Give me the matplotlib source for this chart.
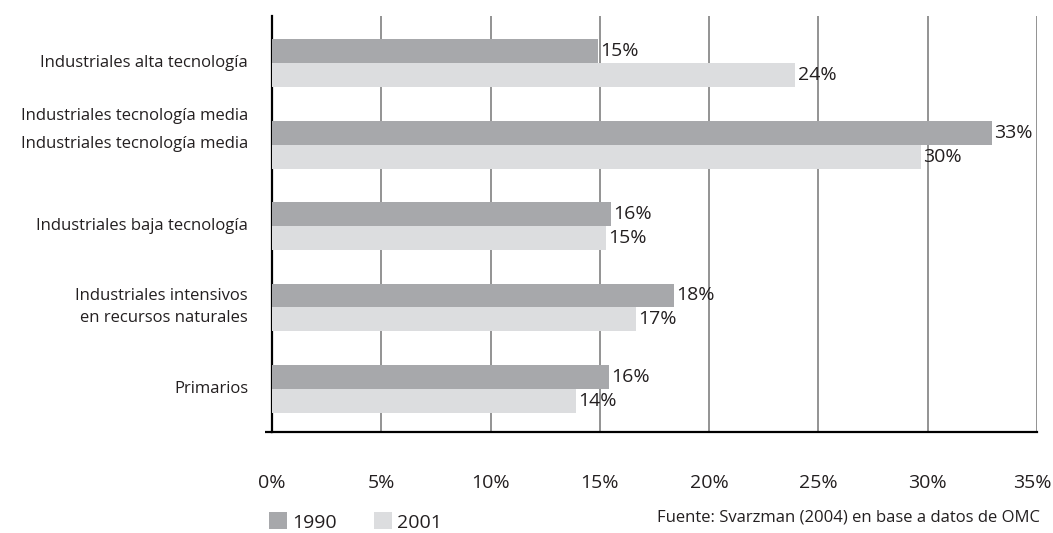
import matplotlib
matplotlib.use("Agg")
import matplotlib.pyplot as plt
from matplotlib.patches import Patch
import matplotlib.transforms as mtransforms

categories = ["Primarios",
              "Industriales intensivos\nen recursos naturales",
              "Industriales baja tecnología",
              "Industriales tecnología media\nIndustriales tecnología media",
              "Industriales alta tecnología"]
values_1990 = [15.4, 18.4, 15.5, 32.95, 14.9]
values_2001 = [13.9, 16.65, 15.3, 29.7, 23.95]
labels_1990 = ["16%", "18%", "16%", "33%", "15%"]
labels_2001 = ["14%", "17%", "15%", "30%", "24%"]
xticks = [0, 5, 10, 15, 20, 25, 30, 35]
xtick_labels = ["0%", "5%", "10%", "15%", "20%", "25%", "30%", "35%"]
series_names = ["1990", "2001"]

# pixel offsets (upward) of each line of the category labels
line_offsets = [[0], [11, -11], [0], [29, 1], [0]]

plt.rcParams['font.family'] = ['Open Sans', 'DejaVu Sans']
TXT = '#231f20'
C1990 = '#a7a8ab'
C2001 = '#dcdddf'

fig = plt.figure(figsize=(10.53, 5.33), dpi=100)
ax = fig.add_axes([272/1053, 1-432/533, (1037-272)/1053, (432-16)/533])

h = 0.294
pos = list(range(len(categories)))
ax.barh([p + h/2 for p in pos], values_1990, height=h, color=C1990, zorder=3)
ax.barh([p - h/2 for p in pos], values_2001, height=h, color=C2001, zorder=3)

for p, v, l in zip(pos, values_1990, labels_1990):
    ax.text(v + 0.1, p + h/2, l, va='center', ha='left', fontsize=14, color=TXT, zorder=4)
for p, v, l in zip(pos, values_2001, labels_2001):
    ax.text(v + 0.1, p - h/2, l, va='center', ha='left', fontsize=14, color=TXT, zorder=4)

ylo, yhi = -0.53, 4.58
ax.set_xlim(0, 35)
ax.set_ylim(ylo, yhi)
ax.set_xticks(xticks)
ax.set_xticklabels(xtick_labels, fontsize=14, color=TXT)
ax.tick_params(axis='x', which='major', length=0, pad=30)
ax.set_xticks([0], minor=True)
ax.tick_params(axis='x', which='minor', length=5, width=1.6, color='black')
ax.set_yticks([ylo])
ax.set_yticklabels([""])
ax.tick_params(axis='y', length=5, width=1.6, color='black')
ax.grid(axis='x', which='major', color='#808080', linewidth=1.2, zorder=0)
ax.set_axisbelow(True)

# shift last tick label so it stays inside the figure, like the reference
last = ax.get_xticklabels()[-1]
last.set_transform(last.get_transform() + mtransforms.ScaledTranslation(-5/100, 0, fig.dpi_scale_trans))

for s in ['top', 'right']:
    ax.spines[s].set_visible(False)
for s in ['left', 'bottom']:
    ax.spines[s].set_linewidth(1.6)
    ax.spines[s].set_color('black')

trans = mtransforms.blended_transform_factory(ax.transAxes, ax.transData)
for p, c, offs in zip(pos, categories, line_offsets):
    for line, off in zip(c.split("\n"), offs):
        ax.text(-24/765, p, line,
                transform=trans + mtransforms.ScaledTranslation(0, off/100, fig.dpi_scale_trans),
                ha='right', va='center', fontsize=12, color=TXT)

handles = [Patch(facecolor=C1990, edgecolor='none'), Patch(facecolor=C2001, edgecolor='none')]
fig.legend(handles, series_names, loc='center left', bbox_to_anchor=(255/1053, 1-522/533),
           ncol=2, frameon=False, fontsize=14, handlelength=0.95, handleheight=0.95,
           handletextpad=0.25, columnspacing=1.9, labelcolor=TXT, borderpad=0.2)

fig.text(1040/1053, 1-517/533, "Fuente: Svarzman (2004) en base a datos de OMC",
         ha='right', va='center', fontsize=12, color=TXT)

fig.savefig("out.png", dpi=100)
